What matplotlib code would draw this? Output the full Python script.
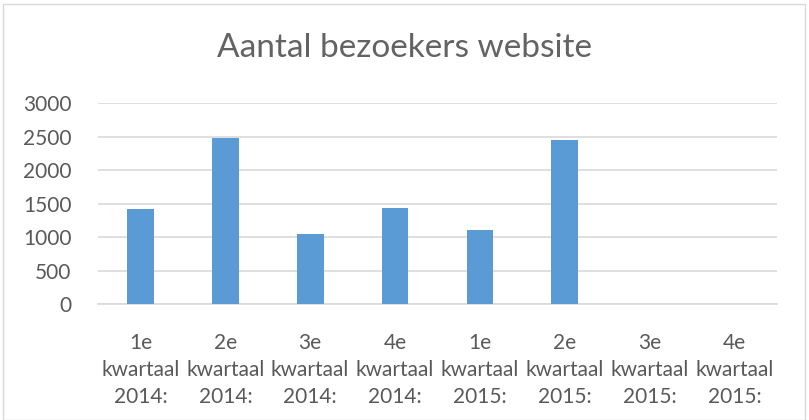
import matplotlib
matplotlib.use("Agg")
import matplotlib.pyplot as plt
from matplotlib.patches import Rectangle

categories = ["1e\nkwartaal\n2014:", "2e\nkwartaal\n2014:", "3e\nkwartaal\n2014:", "4e\nkwartaal\n2014:",
              "1e\nkwartaal\n2015:", "2e\nkwartaal\n2015:", "3e\nkwartaal\n2015:", "4e\nkwartaal\n2015:"]
values = [1422, 2478, 1049, 1433, 1109, 2452, 0, 0]
yticks = [0, 500, 1000, 1500, 2000, 2500, 3000]

TEXT = "#595959"
GRID = "#D9D9D9"
BAR = "#5B9BD5"
FONT = "Lato"

fig = plt.figure(figsize=(8.09, 4.20), dpi=100)
fig.patches.append(Rectangle((3/809, 0.0), 802/809, 1 - 4/420, transform=fig.transFigure,
                             fill=False, edgecolor=GRID, linewidth=1.0))
ax = fig.add_axes([98/809, 1 - 304.3/420, 679/809, 201/420])

x = list(range(len(categories)))
ax.bar(x, values, width=0.314, color=BAR, zorder=3)
ax.set_xlim(-0.5, len(categories) - 0.5)
ax.set_ylim(0, 3000)
ax.set_yticks(yticks)
ax.set_yticklabels([str(v) for v in yticks], fontsize=15, color=TEXT, family=FONT)
ax.set_xticks(x)
ax.set_xticklabels(categories, fontsize=15, color=TEXT, family=FONT, linespacing=1.42)
ax.tick_params(axis="both", length=0)
ax.tick_params(axis="y", pad=19)
ax.tick_params(axis="x", pad=21)
ax.yaxis.grid(True, color=GRID, linewidth=1.2, zorder=0)
for s in ["top", "right", "left"]:
    ax.spines[s].set_visible(False)
ax.spines["bottom"].set_color(GRID)
ax.spines["bottom"].set_linewidth(1.2)

fig.text(0.5, 1 - 48/420, "Aantal bezoekers website", ha="center", va="center",
         fontsize=24, color="#636363", family=FONT)

fig.savefig("out.png", dpi=100)
